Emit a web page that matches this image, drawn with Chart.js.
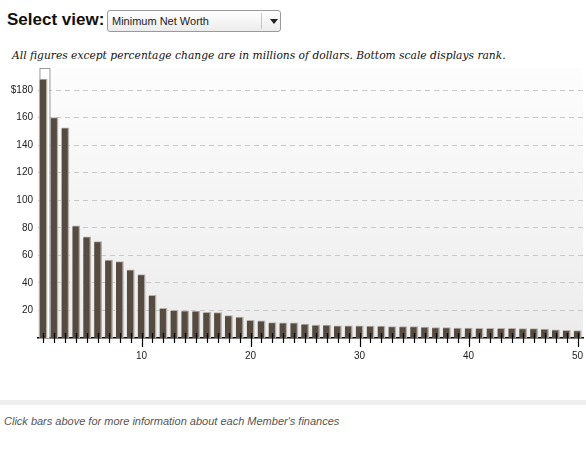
<!DOCTYPE html>
<html lang="en">
<head>
<meta charset="UTF-8">
<title>Minimum Net Worth</title>
<script src="https://cdn.jsdelivr.net/npm/chart.js"></script>
<style>
    body { margin: 0; background: #fff; width: 586px; height: 461px; position: relative; overflow: hidden; font-family: "Liberation Sans", Arial, sans-serif; }
    .view-label { position: absolute; left: 7px; top: 10px; font-size: 17px; font-weight: bold; color: #111; }
    .select { position: absolute; left: 107px; top: 10px; width: 174px; height: 22px; border: 1px solid #9a9a9a; border-radius: 3px;
              background: linear-gradient(#ffffff, #ececec); box-sizing: border-box; }
    .select span { position: absolute; left: 4px; top: 4px; font-size: 11px; color: #222; }
    .select .sep { position: absolute; left: 153px; top: 2px; width: 1px; height: 16px; background: #c4c4c4; }
    .select .arrow { position: absolute; left: 162px; top: 8px; width: 0; height: 0; border-left: 4px solid transparent; border-right: 4px solid transparent; border-top: 5px solid #222; }
    .note { position: absolute; left: 12px; top: 49px; font-family: "DejaVu Serif", serif; font-style: italic; font-size: 10.7px; color: #111; white-space: nowrap; }
    #chart { position: absolute; left: 0; top: 60px; }
    .band { position: absolute; left: 0; top: 400px; width: 586px; height: 5px; background: #eeeeee; }
    .footer { position: absolute; left: 4px; top: 415px; font-size: 11px; font-style: italic; color: #555; white-space: nowrap; }
</style>
</head>
<body>
    <div class="view-label">Select view:</div>
    <div class="select"><span>Minimum Net Worth</span><div class="sep"></div><div class="arrow"></div></div>
    <div class="note">All figures except percentage change are in millions of dollars. Bottom scale displays rank.</div>
    <canvas id="chart" width="586" height="310"></canvas>
    <div class="band"></div>
    <div class="footer">Click bars above for more information about each Member's finances</div>

<script>
    // rank 1..50
    const ranks = [];
    for (let i = 1; i <= 50; i++) ranks.push(String(i));

    // minimum net worth, millions of dollars
    const netWorth = [
        188, 160, 152.5, 81.5, 73.5, 70, 56.5, 55.5, 49.5, 46,
        31, 21.5, 20, 19.8, 19.5, 18.6, 18.4, 16.2, 15.2, 12.8,
        12.4, 11.2, 11, 11, 10.1, 9.4, 9.4, 8.9, 8.9, 8.9,
        8.7, 8.7, 8.2, 8.2, 8.2, 8.0, 7.5, 7.5, 7.2, 7.2,
        7.0, 7.0, 7.0, 7.0, 6.8, 6.8, 6.5, 6.0, 5.6, 5.4
    ];

    const yTicks = [20, 40, 60, 80, 100, 120, 140, 160, 180];
    const xLabelEvery = 10;

    // gradient behind the plot area
    const backdrop = {
        id: 'backdrop',
        beforeDraw(chart) {
            const { ctx, chartArea: a } = chart;
            const g = ctx.createLinearGradient(0, a.top, 0, a.bottom);
            g.addColorStop(0, '#fdfdfd');
            g.addColorStop(1, '#ececec');
            ctx.save();
            ctx.fillStyle = g;
            ctx.fillRect(a.left, a.top, a.right - a.left, a.bottom - a.top);
            ctx.restore();
        },
        beforeDatasetsDraw(chart) {
            // highlight box around the selected (first) bar
            const { ctx, chartArea: a } = chart;
            const bar = chart.getDatasetMeta(0).data[0];
            if (!bar) return;
            ctx.save();
            ctx.fillStyle = '#ffffff';
            ctx.strokeStyle = '#9a9a9a';
            ctx.lineWidth = 1;
            ctx.fillRect(bar.x - 4, a.top, 10, a.bottom - a.top);
            ctx.strokeRect(bar.x - 4 + 0.5, a.top + 0.5, 10, a.bottom - a.top);
            ctx.restore();
        }
    };

    // rank tick marks crossing the bottom axis
    const rankTicks = {
        id: 'rankTicks',
        afterDatasetsDraw(chart) {
            const { ctx, chartArea: a, scales: { x } } = chart;
            ctx.save();
            ctx.strokeStyle = '#000';
            ctx.lineWidth = 1.2;
            ranks.forEach((r, i) => {
                const px = Math.round(x.getPixelForValue(i)) + 0.5;
                const long = (i + 1) % xLabelEvery === 0;
                ctx.beginPath();
                ctx.moveTo(px, a.bottom - 5);
                ctx.lineTo(px, a.bottom + (long ? 9 : 5));
                ctx.stroke();
            });
            ctx.restore();
        }
    };

    const noPad = s => { s.paddingTop = 0; s.paddingBottom = 0; s.paddingLeft = 0; s.paddingRight = 0; };

    new Chart(document.getElementById('chart'), {
        type: 'bar',
        data: {
            labels: ranks,
            datasets: [{
                data: netWorth,
                backgroundColor: '#564b40',
                borderColor: '#b7b0a9',
                borderWidth: { top: 1, right: 1.5, left: 0, bottom: 0 },
                borderSkipped: 'start',
                barThickness: 7.5
            }]
        },
        options: {
            responsive: false,
            animation: false,
            layout: { padding: { top: 8, right: 3, left: 0, bottom: 0 } },
            plugins: { legend: { display: false }, tooltip: { enabled: false } },
            scales: {
                x: {
                    offset: true,
                    grid: { display: false, drawTicks: false },
                    border: { display: true, color: '#000', width: 1.5 },
                    ticks: {
                        autoSkip: false,
                        maxRotation: 0,
                        padding: 12,
                        color: '#222',
                        font: { family: 'Liberation Sans, Arial, sans-serif', size: 10 },
                        callback: (v, i) => ((i + 1) % xLabelEvery === 0 ? ranks[i] : '')
                    },
                    afterFit: s => { s.height = 32; noPad(s); }
                },
                y: {
                    min: 0,
                    max: 196,
                    afterBuildTicks: s => { s.ticks = yTicks.map(v => ({ value: v })); },
                    grid: { color: '#c8c8c8', drawTicks: false },
                    border: { display: false, dash: [5, 4] },
                    ticks: {
                        padding: 5,
                        color: '#222',
                        font: { family: 'Liberation Sans, Arial, sans-serif', size: 10 },
                        callback: v => (v === 180 ? '$' + v : v)
                    },
                    afterFit: s => { s.width = 38; noPad(s); }
                }
            }
        },
        plugins: [backdrop, rankTicks]
    });
</script>
</body>
</html>
